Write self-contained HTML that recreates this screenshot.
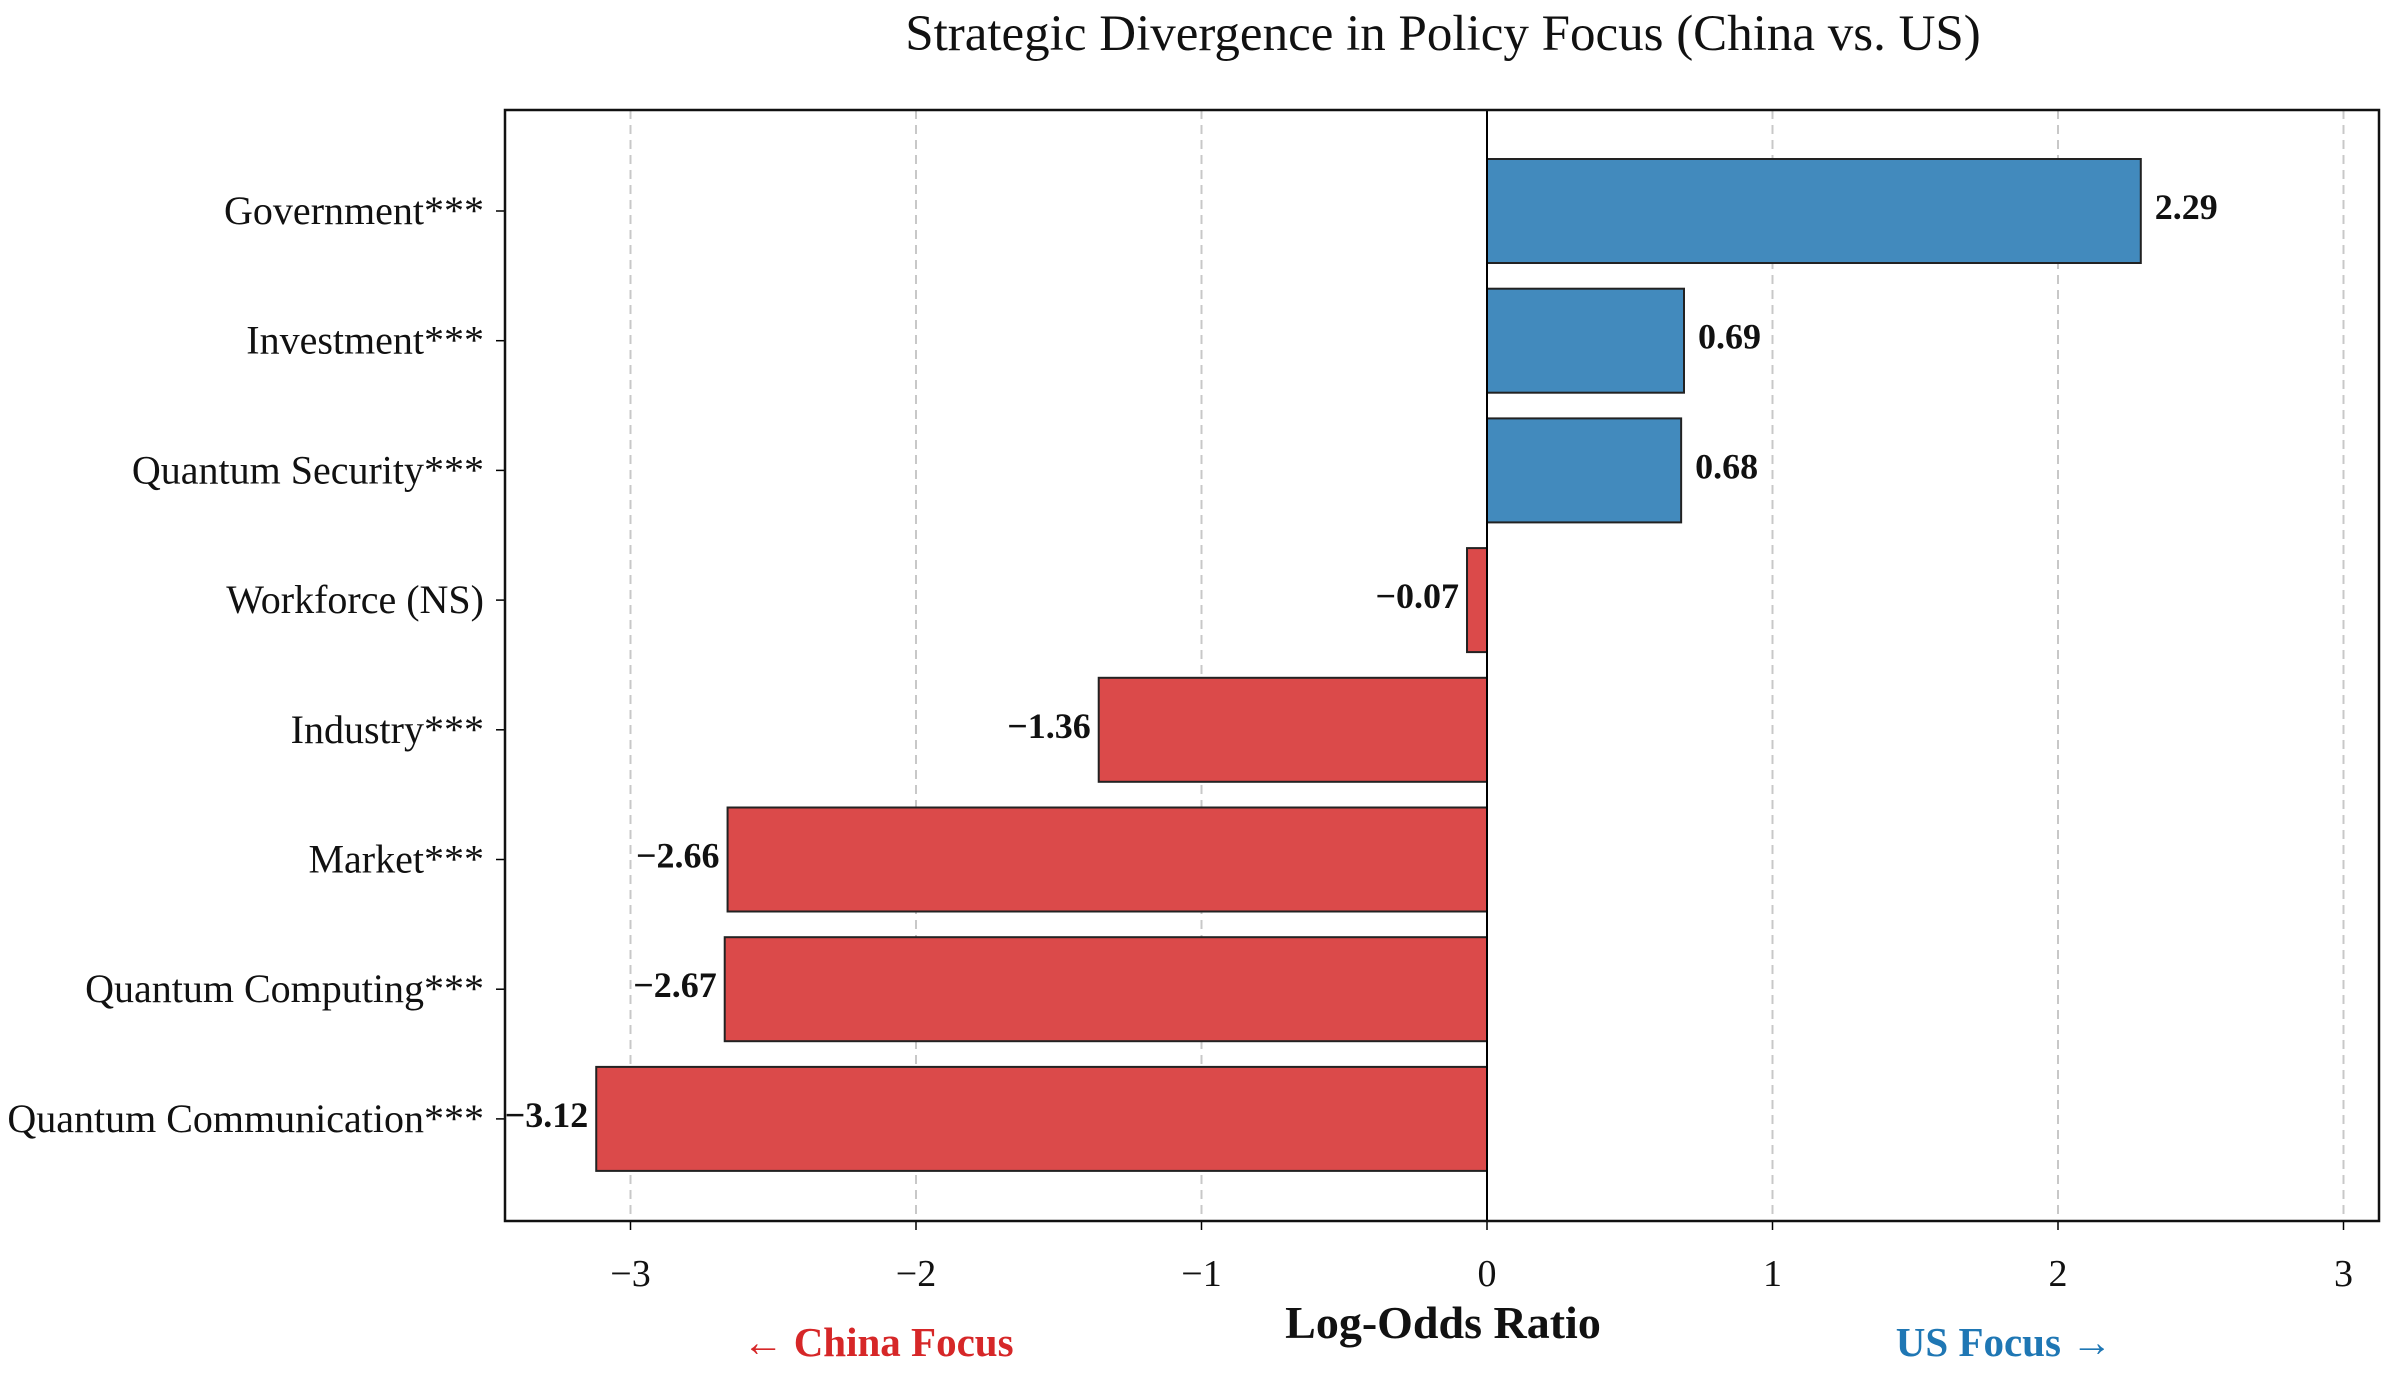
<!DOCTYPE html>
<html><head><meta charset="utf-8"><style>
html,body{margin:0;padding:0;background:#fff;}
svg{display:block;font-family:"Liberation Serif","DejaVu Serif",serif;}
</style></head><body>
<svg id="chart" width="2395" height="1373" viewBox="0 0 2395 1373">
<text x="1443" y="50" text-anchor="middle" font-size="51" fill="#111">Strategic Divergence in Policy Focus (China vs. US)</text>
<g id="grid"></g>
<g id="bars"></g>
<g id="axes"></g>
<text x="1443" y="1338" text-anchor="middle" font-size="46" font-weight="bold" fill="#111">Log-Odds Ratio</text>
<text x="878" y="1356" text-anchor="middle" font-size="41" font-weight="bold" fill="#d62728">← China Focus</text>
<text x="2004" y="1356" text-anchor="middle" font-size="41" font-weight="bold" fill="#1f77b4">US Focus →</text>
</svg>
<script>
const categories = ["Government***","Investment***","Quantum Security***","Workforce (NS)","Industry***","Market***","Quantum Computing***","Quantum Communication***"];
const values = [2.29, 0.69, 0.68, -0.07, -1.36, -2.66, -2.67, -3.12];
const valueLabels = ["2.29","0.69","0.68","\u22120.07","\u22121.36","\u22122.66","\u22122.67","\u22123.12"];
const xTicks = [-3,-2,-1,0,1,2,3];
const xTickLabels = ["\u22123","\u22122","\u22121","0","1","2","3"];

const NS="http://www.w3.org/2000/svg";
const L=505,R=2379,T=110,B=1221;
const X0=1487,UNIT=285.5;
const xs=v=>X0+v*UNIT;
const yc=i=>211+i*129.7;
const BH=104;
function mk(tag,attrs,parent){const e=document.createElementNS(NS,tag);for(const k in attrs)e.setAttribute(k,attrs[k]);parent.appendChild(e);return e;}
const grid=document.getElementById('grid'),bars=document.getElementById('bars'),axes=document.getElementById('axes');

xTicks.forEach((t,i)=>{
  const g=mk('line',{x1:xs(t),x2:xs(t),y1:T,y2:B,stroke:'#c8c8c8','stroke-width':2,'stroke-dasharray':'9,6'},grid);
  
  
  const tk=mk('line',{x1:xs(t),x2:xs(t),y1:B,y2:B+9,stroke:'#000','stroke-width':1.5},axes);
  
  
  const tl=mk('text',{x:xs(t),y:1286,'text-anchor':'middle','font-size':38,fill:'#111'},axes);
  tl.textContent=xTickLabels[i];
  
  
});

categories.forEach((c,i)=>{
  const v=values[i],x1=xs(Math.min(0,v)),w=Math.abs(xs(v)-xs(0));
  const r=mk('rect',{x:x1,y:yc(i)-BH/2,width:w,height:BH,fill:v>=0?'#428abd':'#db4a4a',stroke:'#222','stroke-width':2},bars);
  
  
  const vl=mk('text',{x:v>=0?xs(v)+14:xs(v)-8,y:yc(i)+8,'text-anchor':v>=0?'start':'end','font-size':36,'font-weight':'bold',fill:'#111'},bars);
  vl.textContent=valueLabels[i];
  
  
  const tk=mk('line',{x1:L-9,x2:L,y1:yc(i),y2:yc(i),stroke:'#000','stroke-width':1.5},axes);
  
  
  const tl=mk('text',{x:484,y:yc(i)+13,'text-anchor':'end','font-size':40,fill:'#111'},axes);
  tl.textContent=c;
  
  
});

const zl=mk('line',{x1:X0,x2:X0,y1:T,y2:B,stroke:'#000','stroke-width':2},axes);


const fr=mk('rect',{x:L,y:T,width:R-L,height:B-T,fill:'none',stroke:'#111','stroke-width':2.5},axes);


</script>
</body></html>
